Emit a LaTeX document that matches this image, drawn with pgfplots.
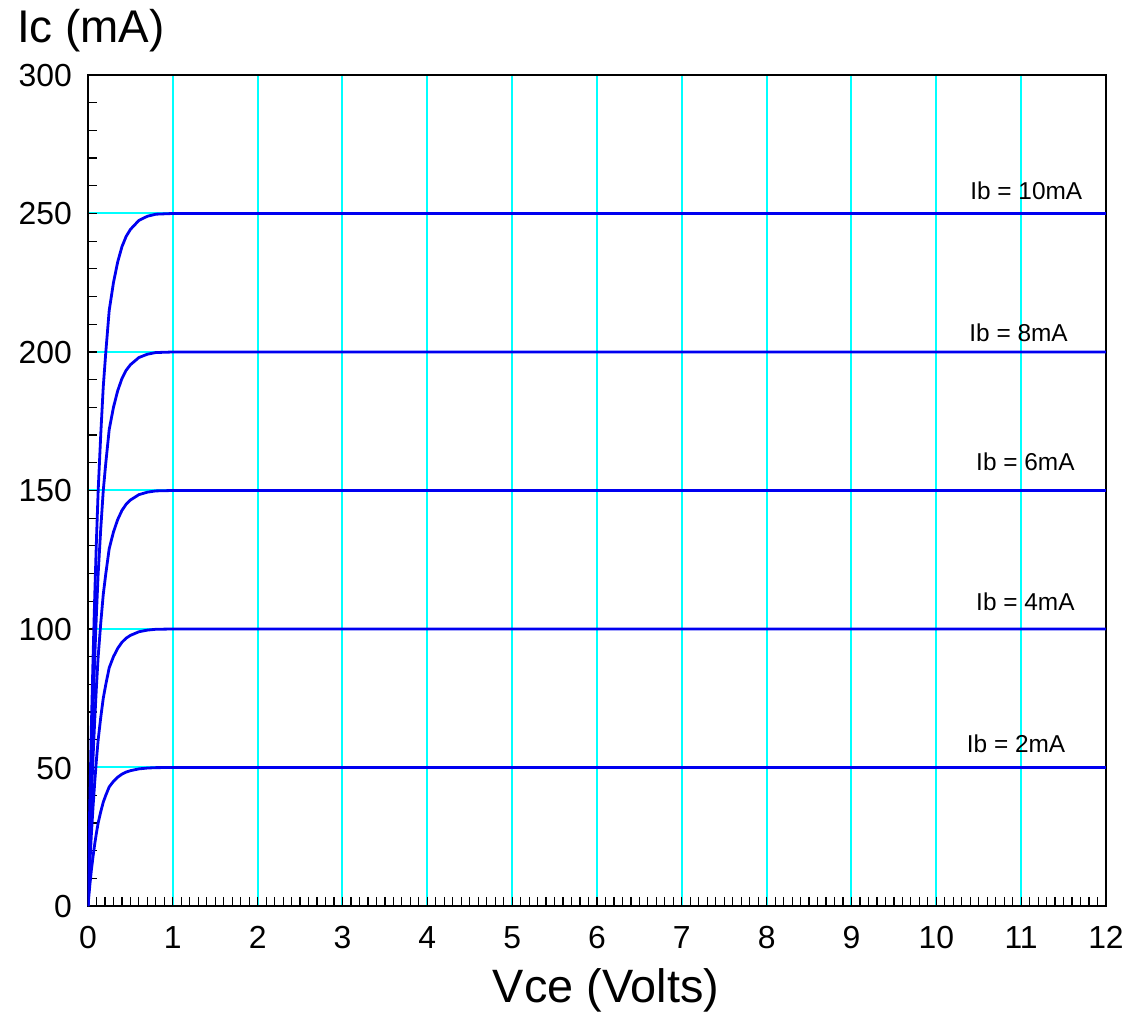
\documentclass[border=0pt]{standalone}
\usepackage{pgfplots}
\pgfplotsset{compat=1.18}
\usepackage{fontspec}
\setmainfont{Liberation Sans}
\definecolor{gridcyan}{RGB}{0,255,255}
\definecolor{curveblue}{RGB}{0,0,240}
\begin{document}
\begin{tikzpicture}
\begin{axis}[
  scale only axis,
  width=1018bp, height=831bp,
  at={(0,0)}, anchor=south west,
  xmin=0, xmax=12, ymin=0, ymax=300,
  xtick={0,1,...,12}, ytick={0,50,...,300},
  minor x tick num=9, minor y tick num=4,
  xtick pos=left, ytick pos=left,
  tick align=inside,
  major tick length=9bp, minor tick length=9bp,
  major tick style={black, line width=1.2bp},
  minor tick style={black, line width=1.2bp},
  axis line style={black, line width=2bp},
  xmajorgrids, ymajorgrids,
  grid style={gridcyan, line width=2bp},
  major grid style={gridcyan, line width=2bp},
  /pgf/number format/assume math mode=true,
  ticklabel style={font=\fontsize{32}{36}\selectfont, inner sep=0pt},
  xticklabel style={anchor=base, yshift=-42bp},
  yticklabel style={anchor=base east, xshift=-16bp, yshift=-11.5bp},
  xlabel={Vce (Volts)},
  xlabel style={font=\fontsize{47}{52}\selectfont, at={(axis description cs:0.5,0)}, anchor=base, inner sep=0pt, yshift=-96bp, xshift=9bp},
  clip=true,
]
\addplot[curveblue, line width=2.8bp] coordinates {
(0,0) (0.02,7) (0.04,13) (0.06,18) (0.08,22.5) (0.10,26.5) (0.12,30) (0.15,34) (0.18,37.5) (0.21,40) (0.25,43) (0.30,45) (0.35,46.5) (0.40,47.6) (0.45,48.35) (0.50,48.85) (0.60,49.5) (0.70,49.8) (0.80,49.95) (1.0,50) (12,50)};
\addplot[curveblue, line width=2.8bp] coordinates {
(0,0) (0.02,14) (0.04,26) (0.06,36) (0.08,45) (0.10,53) (0.12,60) (0.15,68) (0.18,75) (0.21,80) (0.25,86) (0.30,90) (0.35,93) (0.40,95.2) (0.45,96.7) (0.50,97.7) (0.60,99) (0.70,99.6) (0.80,99.9) (1.0,100) (12,100)};
\addplot[curveblue, line width=2.8bp] coordinates {
(0,0) (0.02,21) (0.04,39) (0.06,54) (0.08,67.5) (0.10,79.5) (0.12,90) (0.15,102) (0.18,112.5) (0.21,120) (0.25,129) (0.30,135) (0.35,139.5) (0.40,142.8) (0.45,145.05) (0.50,146.55) (0.60,148.5) (0.70,149.4) (0.80,149.85) (1.0,150) (12,150)};
\addplot[curveblue, line width=2.8bp] coordinates {
(0,0) (0.02,28) (0.04,52) (0.06,72) (0.08,90) (0.10,106) (0.12,120) (0.15,136) (0.18,150) (0.21,160) (0.25,172) (0.30,180) (0.35,186) (0.40,190.4) (0.45,193.4) (0.50,195.4) (0.60,198) (0.70,199.2) (0.80,199.8) (1.0,200) (12,200)};
\addplot[curveblue, line width=2.8bp] coordinates {
(0,0) (0.02,35) (0.04,65) (0.06,90) (0.08,112.5) (0.10,132.5) (0.12,150) (0.15,170) (0.18,187.5) (0.21,200) (0.25,215) (0.30,225) (0.35,232.5) (0.40,238) (0.45,241.75) (0.50,244.25) (0.60,247.5) (0.70,249) (0.80,249.75) (1.0,250) (12,250)};
\begin{scope}[every node/.style={font=\fontsize{24.5}{28}\selectfont, inner sep=0pt}]
\node at (axis cs:11.06,258.3) {Ib = 10mA};
\node at (axis cs:10.97,206.9) {Ib = 8mA};
\node at (axis cs:11.05,160.3) {Ib = 6mA};
\node at (axis cs:11.05,110) {Ib = 4mA};
\node at (axis cs:10.94,58.5) {Ib = 2mA};
\end{scope}
\end{axis}
\node[anchor=base west, inner sep=0pt, font=\fontsize{46}{50}\selectfont] at (-71bp,863bp) {Ic (mA)};
\pgfresetboundingbox
\path (-88bp,-111bp) rectangle (1055bp,906bp);
\end{tikzpicture}
\end{document}
